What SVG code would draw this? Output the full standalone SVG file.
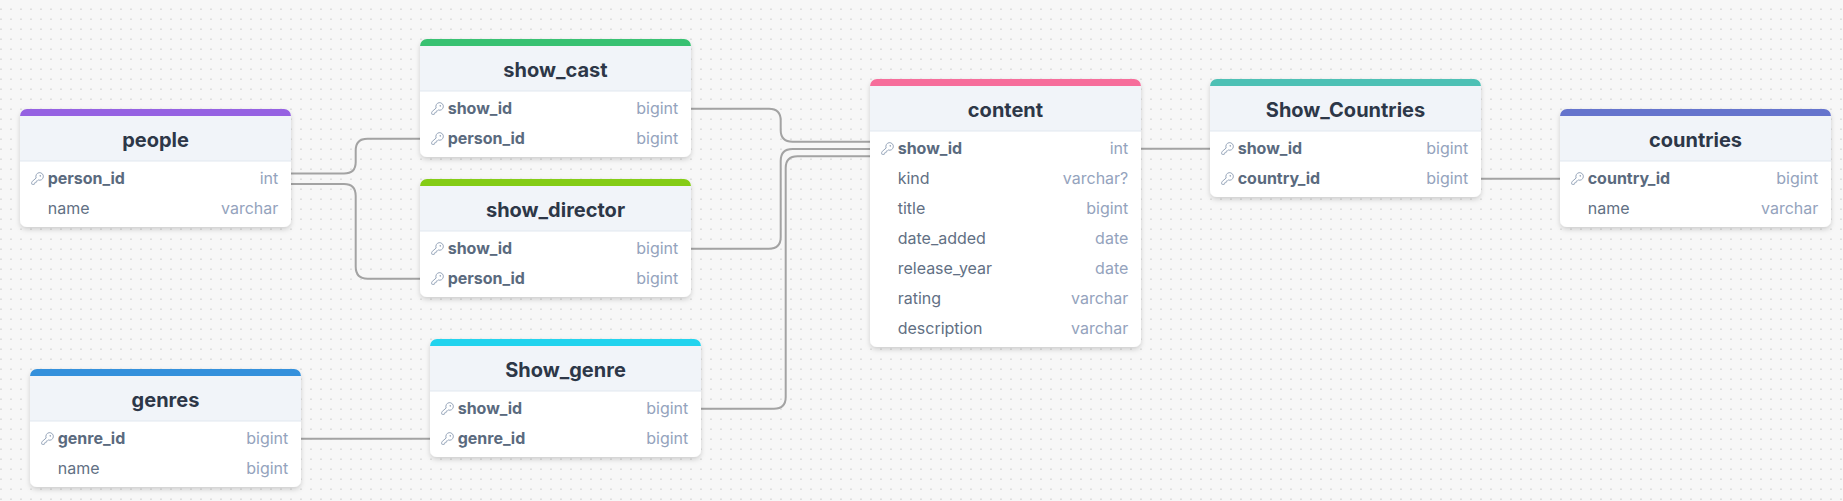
<svg xmlns="http://www.w3.org/2000/svg" width="1843" height="501" viewBox="0 0 1843 501">
<style>
.bg{fill:#f7f7f7}
.card{fill:#fff;filter:url(#sh)}
.hd{fill:#f1f4f9}
.hl{stroke:#e2e8f0;stroke-width:1.2;fill:none}
.t{font:700 20px Inter,"Liberation Sans",sans-serif;fill:#2d3748;text-anchor:middle}
.n{font:400 16px Inter,"Liberation Sans",sans-serif;fill:#627084}
.k{font-weight:700;fill:#5a6a7e}
.y{font:400 16px Inter,"Liberation Sans",sans-serif;fill:#94a3bd;text-anchor:end}
.c{fill:none;stroke:#a3a3a3;stroke-width:2}
.i{fill:none;stroke:#94a3b8;stroke-width:1.7;stroke-linecap:round;stroke-linejoin:round}
</style>
<defs>
<pattern id="dots" width="10" height="10" patternUnits="userSpaceOnUse"><circle cx="1" cy="9.2" r="0.85" fill="#d8d8d8"/></pattern>
<filter id="sh" x="-10%" y="-10%" width="120%" height="125%"><feDropShadow dx="0" dy="2.5" stdDeviation="2.5" flood-color="#000" flood-opacity="0.17"/></filter>
<symbol id="key" viewBox="0 0 24 24"><path class="i" d="M2.586 17.414A2 2 0 0 0 2 18.828V21a1 1 0 0 0 1 1h3a1 1 0 0 0 1-1v-1a1 1 0 0 1 1-1h1a1 1 0 0 0 1-1v-1a1 1 0 0 1 1-1h.172a2 2 0 0 0 1.414-.586l.814-.814a6.5 6.5 0 1 0-4-4z"/><circle class="i" cx="16.5" cy="7.5" r=".5"/></symbol>
</defs>
<rect class="bg" width="1843" height="501"/>
<rect width="1843" height="501" fill="url(#dots)"/>

<g id="connectors">
<path class="c" d="M291 173.5H344Q355.7 173.5 355.7 162V150.5Q355.7 138.7 367.5 138.7H420"/>
<path class="c" d="M291 184H344Q355.7 184 355.7 196V266.5Q355.7 278.7 367.5 278.7H420"/>
<path class="c" d="M691 108.7H769Q780.7 108.7 780.7 120.5V130Q780.7 141.7 792.5 141.7H870"/>
<path class="c" d="M691 248.7H769Q780.7 248.7 780.7 237V161Q780.7 149 792.5 149H870"/>
<path class="c" d="M701 408.7H774Q785.7 408.7 785.7 397V168Q785.7 156.3 797.5 156.3H870"/>
<path class="c" d="M1141 148.7H1210"/>
<path class="c" d="M1481 178.7H1560"/>
<path class="c" d="M301 438.7H430"/>
</g>

<g id="people">
<rect class="card" x="20" y="109" width="271" height="118" rx="7"/>
<rect class="hd" x="20" y="116" width="271" height="45"/>
<path fill="#9561e2" d="M20 116a7 7 0 0 1 7-7H284a7 7 0 0 1 7 7Z"/>
<path class="hl" d="M20 161H291"/>
<text class="t" x="155.5" y="147">people</text>
<use href="#key" x="30.5" y="171.5" width="14" height="14"/>
<text class="n k" x="47.7" y="184">person_id</text><text class="y" x="278.3" y="184">int</text>
<text class="n" x="47.7" y="214">name</text><text class="y" x="278.3" y="214">varchar</text>
</g>

<g id="show_cast">
<rect class="card" x="420" y="39" width="271" height="118" rx="7"/>
<rect class="hd" x="420" y="46" width="271" height="45"/>
<path fill="#38c172" d="M420 46a7 7 0 0 1 7-7H684a7 7 0 0 1 7 7Z"/>
<path class="hl" d="M420 91H691"/>
<text class="t" x="555.5" y="77">show_cast</text>
<use href="#key" x="430.5" y="101.5" width="14" height="14"/>
<text class="n k" x="447.7" y="114">show_id</text><text class="y" x="678.3" y="114">bigint</text>
<use href="#key" x="430.5" y="131.5" width="14" height="14"/>
<text class="n k" x="447.7" y="144">person_id</text><text class="y" x="678.3" y="144">bigint</text>
</g>

<g id="show_director">
<rect class="card" x="420" y="179" width="271" height="118" rx="7"/>
<rect class="hd" x="420" y="186" width="271" height="45"/>
<path fill="#84cc16" d="M420 186a7 7 0 0 1 7-7H684a7 7 0 0 1 7 7Z"/>
<path class="hl" d="M420 231H691"/>
<text class="t" x="555.5" y="217">show_director</text>
<use href="#key" x="430.5" y="241.5" width="14" height="14"/>
<text class="n k" x="447.7" y="254">show_id</text><text class="y" x="678.3" y="254">bigint</text>
<use href="#key" x="430.5" y="271.5" width="14" height="14"/>
<text class="n k" x="447.7" y="284">person_id</text><text class="y" x="678.3" y="284">bigint</text>
</g>

<g id="Show_genre">
<rect class="card" x="430" y="339" width="271" height="118" rx="7"/>
<rect class="hd" x="430" y="346" width="271" height="45"/>
<path fill="#22d3ee" d="M430 346a7 7 0 0 1 7-7H694a7 7 0 0 1 7 7Z"/>
<path class="hl" d="M430 391H701"/>
<text class="t" x="565.5" y="377">Show_genre</text>
<use href="#key" x="440.5" y="401.5" width="14" height="14"/>
<text class="n k" x="457.7" y="414">show_id</text><text class="y" x="688.3" y="414">bigint</text>
<use href="#key" x="440.5" y="431.5" width="14" height="14"/>
<text class="n k" x="457.7" y="444">genre_id</text><text class="y" x="688.3" y="444">bigint</text>
</g>

<g id="genres">
<rect class="card" x="30" y="369" width="271" height="118" rx="7"/>
<rect class="hd" x="30" y="376" width="271" height="45"/>
<path fill="#3490dc" d="M30 376a7 7 0 0 1 7-7H294a7 7 0 0 1 7 7Z"/>
<path class="hl" d="M30 421H301"/>
<text class="t" x="165.5" y="407">genres</text>
<use href="#key" x="40.5" y="431.5" width="14" height="14"/>
<text class="n k" x="57.7" y="444">genre_id</text><text class="y" x="288.3" y="444">bigint</text>
<text class="n" x="57.7" y="474">name</text><text class="y" x="288.3" y="474">bigint</text>
</g>

<g id="content">
<rect class="card" x="870" y="79" width="271" height="268" rx="7"/>
<rect class="hd" x="870" y="86" width="271" height="45"/>
<path fill="#f66d9b" d="M870 86a7 7 0 0 1 7-7H1134a7 7 0 0 1 7 7Z"/>
<path class="hl" d="M870 131H1141"/>
<text class="t" x="1005.5" y="117">content</text>
<use href="#key" x="880.5" y="141.5" width="14" height="14"/>
<text class="n k" x="897.7" y="154">show_id</text><text class="y" x="1128.3" y="154">int</text>
<text class="n" x="897.7" y="184">kind</text><text class="y" x="1128.3" y="184">varchar?</text>
<text class="n" x="897.7" y="214">title</text><text class="y" x="1128.3" y="214">bigint</text>
<text class="n" x="897.7" y="244">date_added</text><text class="y" x="1128.3" y="244">date</text>
<text class="n" x="897.7" y="274">release_year</text><text class="y" x="1128.3" y="274">date</text>
<text class="n" x="897.7" y="304">rating</text><text class="y" x="1128.3" y="304">varchar</text>
<text class="n" x="897.7" y="334">description</text><text class="y" x="1128.3" y="334">varchar</text>
</g>

<g id="Show_Countries">
<rect class="card" x="1210" y="79" width="271" height="118" rx="7"/>
<rect class="hd" x="1210" y="86" width="271" height="45"/>
<path fill="#4dc0b5" d="M1210 86a7 7 0 0 1 7-7H1474a7 7 0 0 1 7 7Z"/>
<path class="hl" d="M1210 131H1481"/>
<text class="t" x="1345.5" y="117">Show_Countries</text>
<use href="#key" x="1220.5" y="141.5" width="14" height="14"/>
<text class="n k" x="1237.7" y="154">show_id</text><text class="y" x="1468.3" y="154">bigint</text>
<use href="#key" x="1220.5" y="171.5" width="14" height="14"/>
<text class="n k" x="1237.7" y="184">country_id</text><text class="y" x="1468.3" y="184">bigint</text>
</g>

<g id="countries">
<rect class="card" x="1560" y="109" width="271" height="118" rx="7"/>
<rect class="hd" x="1560" y="116" width="271" height="45"/>
<path fill="#6574cd" d="M1560 116a7 7 0 0 1 7-7H1824a7 7 0 0 1 7 7Z"/>
<path class="hl" d="M1560 161H1831"/>
<text class="t" x="1695.5" y="147">countries</text>
<use href="#key" x="1570.5" y="171.5" width="14" height="14"/>
<text class="n k" x="1587.7" y="184">country_id</text><text class="y" x="1818.3" y="184">bigint</text>
<text class="n" x="1587.7" y="214">name</text><text class="y" x="1818.3" y="214">varchar</text>
</g>
</svg>
